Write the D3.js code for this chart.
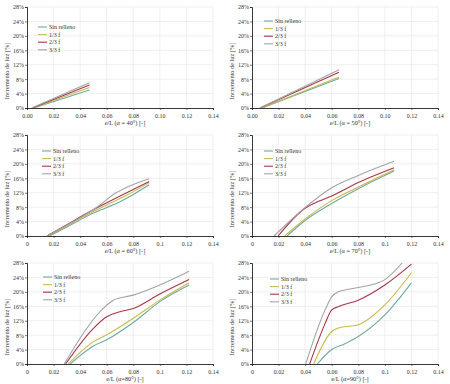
<!DOCTYPE html>
<html>
<head>
<meta charset="utf-8">
<script src="https://cdn.jsdelivr.net/npm/d3@7"></script>
<style>
  body { margin: 0; background: #fff; }
  svg { display: block; }
  text { font-family: "Liberation Serif", "DejaVu Serif", serif; fill: #333; }
</style>
</head>
<body>
<svg id="chart" width="450" height="384"></svg>
<script>
const series = ["Sin relleno", "1/3 f", "2/3 f", "3/3 f"];
const colors = ["#6fa8a4", "#c9ba4c", "#a8344a", "#a3a3a3"];

const yTicks = [0, 4, 8, 12, 16, 20, 24, 28];
const xTicks = [0, 0.02, 0.04, 0.06, 0.08, 0.1, 0.12, 0.14];

const angles = ["α = 40°", "α = 50°", "α = 60°", "α = 70°", "α=80°", "α=90°"];

// [e/L, %] per series, per panel
const a40 = [
    [[0.0050, 0], [0.047, 5.0]],
    [[0.0045, 0], [0.047, 5.7]],
    [[0.0040, 0], [0.047, 6.4]],
    [[0.0035, 0], [0.047, 7.0]]
];
const a50 = [
    [[0.0075, 0], [0.0655, 8.2]],
    [[0.0072, 0], [0.0655, 8.6]],
    [[0.0060, 0], [0.0655, 9.9]],
    [[0.0060, 0], [0.0655, 10.6]]
];
const a60 = [
    [[0.017, 0], [0.03, 2.5], [0.045, 5.5], [0.06, 7.9], [0.07, 9.5], [0.092, 14.2]],
    [[0.016, 0], [0.03, 2.8], [0.045, 5.9], [0.06, 8.6], [0.075, 11.3], [0.092, 14.8]],
    [[0.015, 0], [0.03, 3.1], [0.045, 6.3], [0.06, 9.2], [0.075, 12.0], [0.092, 15.1]],
    [[0.015, 0], [0.03, 3.0], [0.045, 6.2], [0.055, 8.6], [0.065, 11.5], [0.075, 13.5], [0.092, 15.9]]
];
const a70 = [
    [[0.0263, 0], [0.04, 4.3], [0.06, 9.0], [0.08, 13.1], [0.107, 18.0]],
    [[0.0246, 0], [0.04, 4.7], [0.06, 9.8], [0.08, 13.6], [0.107, 18.4]],
    [[0.0196, 0], [0.04, 7.7], [0.05, 9.6], [0.06, 11.1], [0.08, 14.8], [0.107, 18.9]],
    [[0.0166, 0], [0.04, 7.9], [0.06, 13.4], [0.08, 16.8], [0.107, 20.7]]
];
const a80 = [
    [[0.0325, 0], [0.05, 5.0], [0.06, 6.7], [0.08, 11.5], [0.1, 17.3], [0.122, 21.9]],
    [[0.031, 0], [0.05, 6.2], [0.06, 8.1], [0.08, 12.7], [0.1, 17.7], [0.122, 22.5]],
    [[0.029, 0], [0.05, 9.9], [0.06, 13.1], [0.07, 14.5], [0.08, 15.4], [0.1, 19.4], [0.122, 23.4]],
    [[0.028, 0], [0.06, 16.3], [0.065, 17.7], [0.08, 19.1], [0.1, 21.9], [0.122, 25.7]]
];
const a90 = [
    [[0.0492, 0], [0.06, 4.0], [0.07, 5.6], [0.08, 7.6], [0.1, 13.6], [0.12, 22.5]],
    [[0.0464, 0], [0.06, 9.0], [0.065, 10.0], [0.08, 10.9], [0.1, 16.4], [0.12, 25.3]],
    [[0.0434, 0], [0.055, 11.2], [0.06, 15.0], [0.065, 15.9], [0.08, 17.7], [0.1, 21.9], [0.12, 27.7]],
    [[0.0404, 0], [0.055, 15.0], [0.06, 18.6], [0.065, 20.0], [0.08, 21.2], [0.095, 22.5], [0.1, 23.4], [0.113, 28.0]]
];
const panelData = [a40, a50, a60, a70, a80, a90];

// layout only
const panels = [
    { x: 0, y: 0, legY: 27, legX: 38, fmt: d3.format(".2f") },
    { x: 225, y: 0, legY: 21, legX: 39, fmt: d3.format(".2f") },
    { x: 0, y: 128, legY: 23, legX: 42, fmt: d => String(+d.toFixed(2)) },
    { x: 225, y: 128, legY: 23, legX: 39, fmt: d => String(+d.toFixed(2)) },
    { x: 0, y: 256, legY: 21, legX: 43, fmt: d => String(+d.toFixed(2)) },
    { x: 225, y: 256, legY: 23, legX: 45, fmt: d => String(+d.toFixed(2)) }
];

const svg = d3.select("#chart");
const plot = { left: 27, top: 7, width: 186, height: 101 };

const x = d3.scaleLinear().domain([0, 0.14]).range([0, plot.width]);
const y = d3.scaleLinear().domain([0, 28]).range([plot.height, 0]);

const line = d3.line()
    .x(d => x(d[0]))
    .y(d => y(d[1]))
    .curve(d3.curveMonotoneX);

panels.forEach((p, i) => {
    const g = svg.append("g")
        .attr("transform", `translate(${p.x},${p.y})`);

    const area = g.append("g")
        .attr("transform", `translate(${plot.left},${plot.top})`);

    const clipId = "clip" + i;
    area.append("clipPath").attr("id", clipId)
        .append("rect")
        .attr("width", plot.width)
        .attr("height", plot.height);

    // grid
    area.selectAll(".vgrid")
        .data(xTicks.slice(1))
        .enter()
        .append("line")
        .attr("x1", d => x(d)).attr("x2", d => x(d))
        .attr("y1", 0).attr("y2", plot.height)
        .attr("stroke", "#e4e4e4")
        .attr("stroke-width", 0.6);

    area.selectAll(".hgrid")
        .data(yTicks.slice(1))
        .enter()
        .append("line")
        .attr("x1", 0).attr("x2", plot.width)
        .attr("y1", d => y(d)).attr("y2", d => y(d))
        .attr("stroke", "#e4e4e4")
        .attr("stroke-width", 0.6);

    // axes
    const xAxis = area.append("g")
        .attr("transform", `translate(0,${plot.height})`)
        .call(d3.axisBottom(x).tickValues(xTicks).tickSize(2).tickFormat(p.fmt));
    const yAxis = area.append("g")
        .call(d3.axisLeft(y).tickValues(yTicks).tickSize(2).tickFormat(d => d + "%"));

    [xAxis, yAxis].forEach(ax => {
        ax.select(".domain").attr("stroke", "#222").attr("stroke-width", 0.9);
        ax.selectAll(".tick line").attr("stroke", "#222").attr("stroke-width", 0.6);
        ax.selectAll("text")
            .attr("font-family", "Liberation Serif, DejaVu Serif, serif")
            .attr("font-size", 6)
            .attr("fill", "#333");
    });
    xAxis.selectAll("text").attr("dy", "0.85em");
    yAxis.selectAll("text").attr("x", -3);

    // lines
    area.append("g")
        .attr("clip-path", `url(#${clipId})`)
        .selectAll("path")
        .data(panelData[i])
        .enter()
        .append("path")
        .attr("d", line)
        .attr("fill", "none")
        .attr("stroke", (d, j) => colors[j])
        .attr("stroke-width", 1.1);

    // axis titles
    g.append("text")
        .attr("transform", `translate(9,${plot.top + 64}) rotate(-90)`)
        .attr("text-anchor", "middle")
        .attr("font-size", 6.3)
        .text("Incremento de luz [%]");

    g.append("text")
        .attr("x", 125)
        .attr("y", 125)
        .attr("text-anchor", "middle")
        .attr("font-size", 6.3)
        .text(`e/L (${angles[i]}) [-]`);

    // legend
    const leg = g.append("g")
        .attr("transform", `translate(${p.legX},${p.legY})`);
    series.forEach((s, j) => {
        leg.append("line")
            .attr("x1", 0).attr("x2", 9)
            .attr("y1", j * 7.6).attr("y2", j * 7.6)
            .attr("stroke", colors[j])
            .attr("stroke-width", 1.1);
        leg.append("text")
            .attr("x", 11)
            .attr("y", j * 7.6)
            .attr("dy", "0.35em")
            .attr("font-size", 6)
            .text(s);
    });
});
</script>
</body>
</html>
